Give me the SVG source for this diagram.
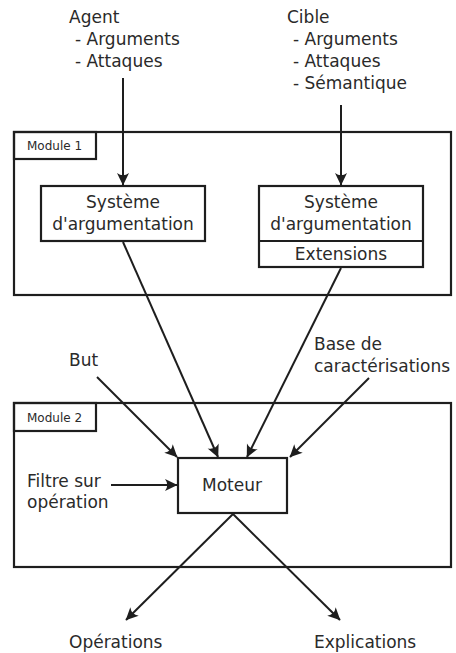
<svg xmlns="http://www.w3.org/2000/svg" width="456" height="653" viewBox="0 0 456 653">
<style>
text{font-family:"DejaVu Sans","Liberation Sans",sans-serif;font-size:17px;fill:#2a2a2a}
.small{font-size:12px}
.c{text-anchor:middle}
.box{fill:#fff;stroke:#1e1e1e;stroke-width:2.2}
.frame{fill:none;stroke:#1e1e1e;stroke-width:2.2}
.conn line{stroke:#1e1e1e;stroke-width:2}
</style>
<defs>
<marker id="ah" viewBox="-13 -7 14 14" refX="0" refY="0" markerWidth="14" markerHeight="14" markerUnits="userSpaceOnUse" orient="auto">
<path d="M0.5,0 L-12,-6 Q-7.5,0 -12,6 Z" fill="#1e1e1e"/>
</marker>
</defs>
<rect width="456" height="653" fill="#fff"/>

<g id="agent">
<text x="69" y="23">Agent</text>
<text x="75" y="45">- Arguments</text>
<text x="75" y="67">- Attaques</text>
</g>
<g id="cible">
<text x="287" y="23">Cible</text>
<text x="293" y="45">- Arguments</text>
<text x="293" y="67">- Attaques</text>
<text x="293" y="89">- Sémantique</text>
</g>

<g id="module1">
<rect class="frame" x="14" y="132" width="437" height="163"/>
<rect class="frame" x="14" y="132" width="82" height="27"/>
<text class="small" x="27" y="150">Module 1</text>
</g>
<g id="sys1">
<rect class="box" x="41" y="186" width="164" height="55"/>
<text class="c" x="123" y="208">Système</text>
<text class="c" x="123" y="230">d'argumentation</text>
</g>
<g id="sys2">
<rect class="box" x="259" y="186" width="164" height="81"/>
<line x1="259" y1="241" x2="423" y2="241" stroke="#1e1e1e" stroke-width="2.2"/>
<text class="c" x="341" y="208">Système</text>
<text class="c" x="341" y="230">d'argumentation</text>
<text class="c" x="341" y="260">Extensions</text>
</g>

<g id="but"><text x="69" y="366">But</text></g>
<g id="base">
<text x="314" y="350">Base de</text>
<text x="314" y="372">caractérisations</text>
</g>

<g id="module2">
<rect class="frame" x="14" y="403" width="437" height="164"/>
<rect class="frame" x="14" y="403" width="82" height="28"/>
<text class="small" x="27" y="422">Module 2</text>
</g>
<g id="filtre">
<text x="27" y="487">Filtre sur</text>
<text x="27" y="508">opération</text>
</g>
<g id="moteur">
<rect class="box" x="178" y="458" width="109" height="55"/>
<text class="c" x="232" y="491">Moteur</text>
</g>
<g id="operations"><text x="69" y="648">Opérations</text></g>
<g id="explications"><text x="314" y="648">Explications</text></g>

<g class="conn" id="connectors">
<line x1="123" y1="78" x2="123" y2="185" marker-end="url(#ah)"/>
<line x1="341" y1="105" x2="341" y2="185" marker-end="url(#ah)"/>
<line x1="123" y1="242" x2="218" y2="457" marker-end="url(#ah)"/>
<line x1="341" y1="268" x2="247" y2="457" marker-end="url(#ah)"/>
<line x1="97" y1="377" x2="177" y2="457" marker-end="url(#ah)"/>
<line x1="369" y1="378" x2="290" y2="457" marker-end="url(#ah)"/>
<line x1="111" y1="485" x2="177" y2="485" marker-end="url(#ah)"/>
<line x1="233" y1="514" x2="126" y2="620" marker-end="url(#ah)"/>
<line x1="233" y1="514" x2="340" y2="620" marker-end="url(#ah)"/>
</g>
</svg>
